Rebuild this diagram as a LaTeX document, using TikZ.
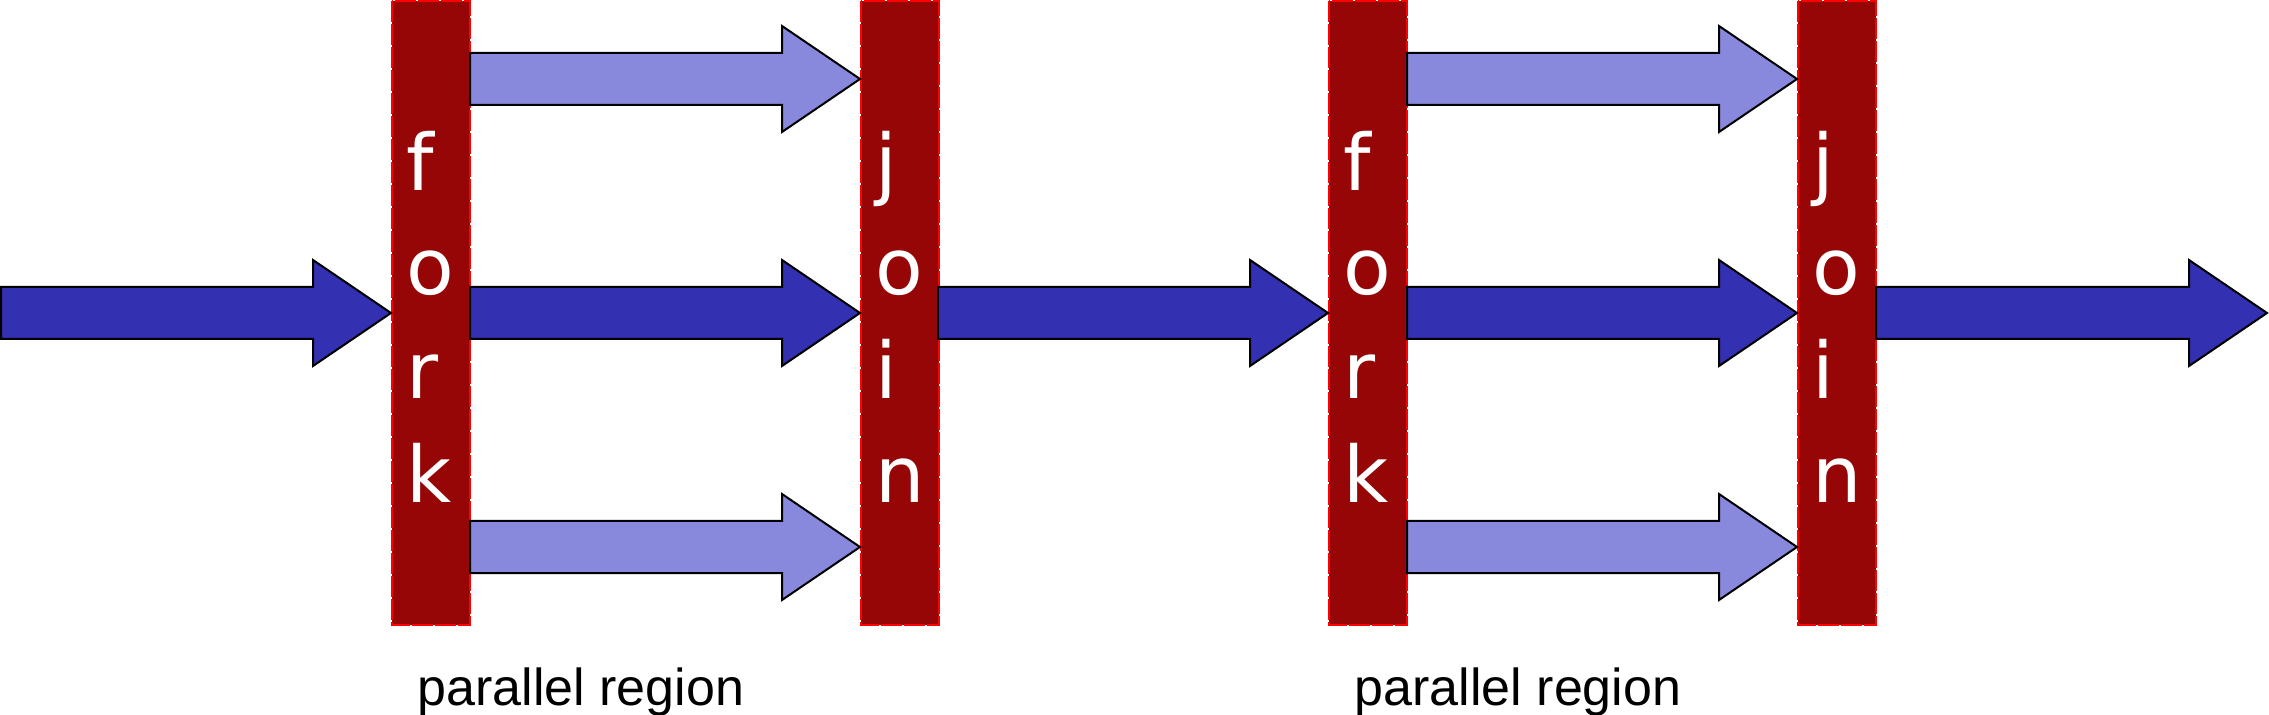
\documentclass[tikz,border=0pt]{standalone}
\usepackage{fontspec}
\setmainfont{Liberation Sans}
\newfontfamily\barfont{DejaVu Sans}
\definecolor{darkarrow}{RGB}{51,48,178}
\definecolor{lightarrow}{RGB}{136,136,221}
\definecolor{barfill}{RGB}{150,6,6}
\newcommand\blkarrow[4]{%
  \draw[blockarrow, fill=#4] (#1,#3-26) -- (#2-78,#3-26) -- (#2-78,#3-53) -- (#2,#3)
    -- (#2-78,#3+53) -- (#2-78,#3+26) -- (#1,#3+26) -- cycle;}
\begin{document}
\begin{tikzpicture}[x=0.5pt,y=-0.5pt,
  barbox/.style={fill=barfill, draw=red, line width=1pt, dash pattern=on 10.5pt off 1pt},
  blockarrow/.style={draw=black, line width=1pt, line join=miter},
  barletter/.style={text=white, font=\barfont\fontsize{39pt}{48pt}\selectfont, anchor=base west, inner sep=0pt},
  caption/.style={font=\fontsize{26pt}{32pt}\selectfont, anchor=base, inner sep=0pt}]
\useasboundingbox (0,0) rectangle (2269,715);
% bars
\draw[barbox] (391.5,1) rectangle (469.5,625);
\draw[barbox] (860.5,1) rectangle (938.5,625);
\draw[barbox] (1328.5,1) rectangle (1406.5,625);
\draw[barbox] (1797.5,1) rectangle (1875.5,625);
% arrows
\blkarrow{1}{391}{313}{darkarrow}
\blkarrow{470}{860}{79}{lightarrow}
\blkarrow{470}{860}{313}{darkarrow}
\blkarrow{470}{860}{547}{lightarrow}
\blkarrow{938}{1328}{313}{darkarrow}
\blkarrow{1407}{1797}{79}{lightarrow}
\blkarrow{1407}{1797}{313}{darkarrow}
\blkarrow{1407}{1797}{547}{lightarrow}
\blkarrow{1876}{2267}{313}{darkarrow}
% letters
\foreach \l [count=\i] in {f,o,r,k} {
  \node[barletter] (forkA-\i) at (406, 191+\i*103.7-103.7) {\l};
  \node[barletter] (forkB-\i) at (1343, 191+\i*103.7-103.7) {\l};
}
\foreach \l [count=\i] in {j,o,i,n} {
  \node[barletter] (joinA-\i) at (875, 191+\i*103.7-103.7) {\l};
  \node[barletter] (joinB-\i) at (1812, 191+\i*103.7-103.7) {\l};
}
% captions
\node[caption] (capA) at (581,705) {parallel region};
\node[caption] (capB) at (1518,705) {parallel region};
\end{tikzpicture}
\end{document}
